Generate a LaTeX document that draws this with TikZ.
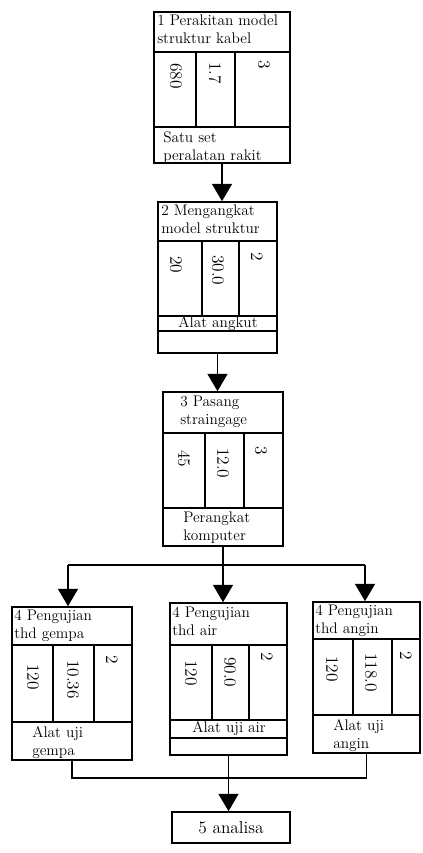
\documentclass[tikz,border=0pt]{standalone}
\usepackage{tikz}
\usetikzlibrary{arrows.meta,fit}

\tikzset{
  box/.style={draw, line width=1.2pt, inner sep=0pt},
  sep/.style={line width=0.8pt},
  txt/.style={anchor=north west, align=left, inner sep=0pt, font=\fontsize{11.5}{13.5}\selectfont},
  num/.style={rotate=-90, anchor=west, inner sep=0pt, font=\fontsize{13}{15}\selectfont},
  link/.style={line width=1pt},
  arr/.style={line width=1pt, -{Triangle[width=15pt,length=13pt]}}
}

\begin{document}
\begin{tikzpicture}[x=0.75pt, y=-0.75pt]
            \useasboundingbox (0,0) rectangle (422,853);

            % 1 Perakitan
            \node[box, fit={(154,12) (290,163)}] (P1) {};
            \draw[sep] (154,52) -- (290,52) (154,127) -- (290,127) (196,52) -- (196,127) (235,52) -- (235,127);
            \node[txt] (T1) at (157,15) {1 Perakitan model\\struktur kabel};
            \node[num] (N1a) at (176,63) {680};
            \node[num] (N1b) at (215,62) {1.7};
            \node[num] (N1c) at (264,60) {3};
            \node[txt] (L1) at (163,131) {Satu set\\peralatan rakit};

            % 2 Mengangkat
            \node[box, fit={(158,202) (277,353)}] (P2) {};
            \draw[sep] (158,241) -- (277,241) (158,316) -- (277,316) (158,331) -- (277,331) (202,241) -- (202,316) (239,241) -- (239,316);
            \node[txt] (T2) at (161,205) {2 Mengangkat\\model struktur};
            \node[num] (N2a) at (176,256) {20};
            \node[num] (N2b) at (218,255) {30.0};
            \node[num] (N2c) at (257,252) {2};
            \node[txt, anchor=center] (L2) at (218,323.5) {Alat angkut};

            % 3 Pasang
            \node[box, fit={(163,392) (283,546)}] (P3) {};
            \draw[sep] (163,433) -- (283,433) (163,508) -- (283,508) (205,433) -- (205,508) (244,433) -- (244,508);
            \node[txt] (T3) at (180,396) {3 Pasang\\straingage};
            \node[num] (N3a) at (184,450) {45};
            \node[num] (N3b) at (223,448) {12.0};
            \node[num] (N3c) at (261,446) {3};
            \node[txt] (L3) at (183,512) {Perangkat\\komputer};

            % 4 Pengujian gempa
            \node[box, fit={(12,607) (132,760)}] (P4a) {};
            \draw[sep] (12,645) -- (132,645) (12,722) -- (132,722) (53,645) -- (53,722) (94,645) -- (94,722);
            \node[txt] (T4a) at (14,610) {4 Pengujian\\thd gempa};
            \node[num] (N4a1) at (33,664) {120};
            \node[num] (N4a2) at (73,660) {10.36};
            \node[num] (N4a3) at (112,655) {2};
            \node[txt] (L4a) at (32,726) {Alat uji\\gempa};

            % 4 Pengujian air
            \node[box, fit={(170,603) (287,755)}] (P4b) {};
            \draw[sep] (170,645) -- (287,645) (170,720) -- (287,720) (170,738) -- (287,738) (212,645) -- (212,720) (249,645) -- (249,720);
            \node[txt] (T4b) at (172,607) {4 Pengujian\\thd air};
            \node[num] (N4b1) at (191,660) {120};
            \node[num] (N4b2) at (230,657) {90.0};
            \node[num] (N4b3) at (267,652) {2};
            \node[txt, anchor=center] (L4b) at (229,729) {Alat uji air};

            % 4 Pengujian angin
            \node[box, fit={(313,602) (420,753)}] (P4c) {};
            \draw[sep] (313,639) -- (420,639) (313,715) -- (420,715) (353,639) -- (353,715) (392,639) -- (392,715);
            \node[txt] (T4c) at (315,605) {4 Pengujian\\thd angin};
            \node[num] (N4c1) at (332,656) {120};
            \node[num] (N4c2) at (371,653) {118.0};
            \node[num] (N4c3) at (406,651) {2};
            \node[txt] (L4c) at (333,719) {Alat uji\\angin};

            % 5 analisa
            \node[box, fit={(172,812) (290,843)}] (P5) {};
            \node[txt, anchor=center, font=\fontsize{13}{15}\selectfont] (T5) at (P5) {5 analisa};

            % connectors
            \draw[arr] (P1.south) -- (P1.south |- P2.north);
            \draw[arr] (P2.south) -- (P2.south |- P3.north);

            \coordinate (S) at (P3.south |- 0,565);
            \coordinate (SL) at (68,565);
            \coordinate (SR) at (365,565);
            \draw[link] (P3.south) -- (S);
            \draw[link] (SL) -- (SR);
            \draw[arr] (SL) -- (SL |- P4a.north);
            \draw[arr] (S) -- (S |- P4b.north);
            \draw[arr] (SR) -- (SR |- P4c.north);

            \coordinate (ML) at (P4a.south |- 0,778);
            \coordinate (MR) at (P4c.south |- 0,778);
            \draw[link] (P4a.south) -- (ML) -- (MR) -- (P4c.south);
            \draw[arr] (P4b.south) -- (P4b.south |- P5.north);
        \end{tikzpicture}
\end{document}
